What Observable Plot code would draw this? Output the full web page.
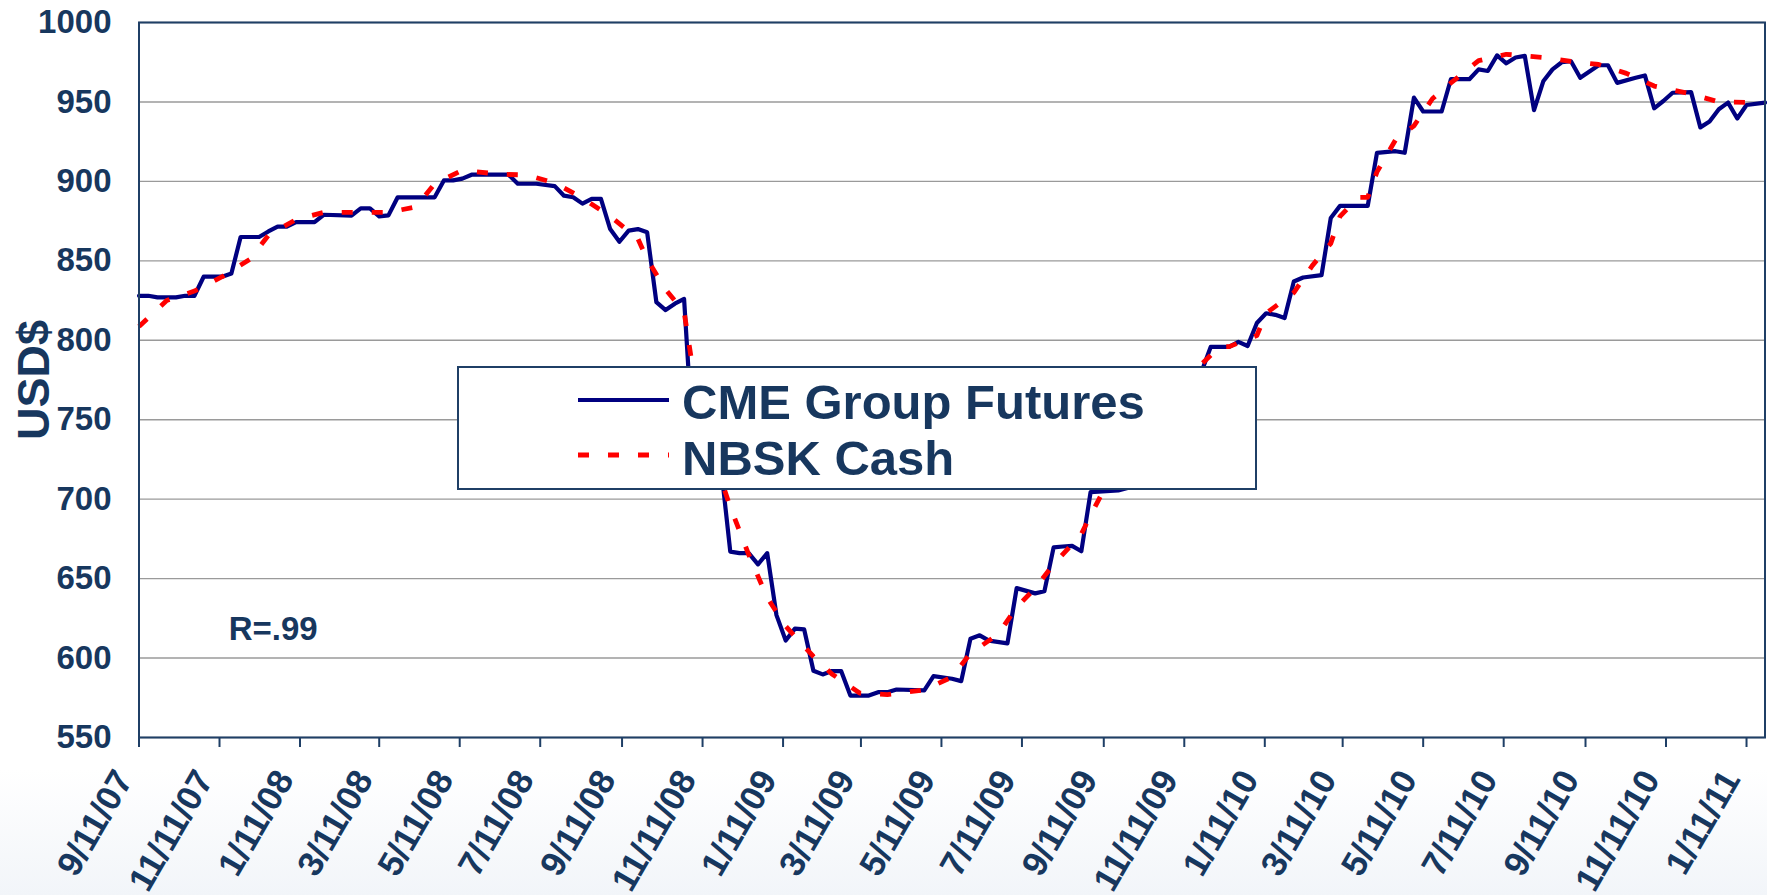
<!DOCTYPE html>
<html>
<head>
<meta charset="utf-8">
<script src="https://cdn.jsdelivr.net/npm/d3@7"></script>
<script src="https://cdn.jsdelivr.net/npm/@observablehq/plot@0.6"></script>
<style>
  html, body { margin: 0; padding: 0; overflow: hidden; }
  body {
    width: 1767px; height: 895px;
    background: linear-gradient(to bottom, #ffffff 0%, #ffffff 86%, #f2f5f9 100%);
    font-family: 'Liberation Sans', Arial, sans-serif;
  }
  #wrap { position: relative; width: 1767px; height: 895px; }
  #legend {
    position: absolute; left: 457px; top: 366px; width: 800px; height: 124px;
    box-sizing: border-box; border: 2px solid #1f3f66; background: #ffffff;
  }
  #legend svg { display: block; }
</style>
</head>
<body>
<div id="wrap"><div id="legend"></div></div>
<script>
// ---------------- data ----------------
const startDate = "2007-09-11";     // first weekly observation
const lastWeek = 176;               // last weekly observation (week index)
const tickLabels = ["9/11/07","11/11/07","1/11/08","3/11/08","5/11/08","7/11/08","9/11/08","11/11/08",
  "1/11/09","3/11/09","5/11/09","7/11/09","9/11/09","11/11/09","1/11/10","3/11/10","5/11/10",
  "7/11/10","9/11/10","11/11/10","1/11/11"];
const yTicks = [550, 600, 650, 700, 750, 800, 850, 900, 950, 1000];
const yTitle = "USD$";
const seriesNames = ["CME Group Futures", "NBSK Cash"];
const seriesColors = ["#000080", "#FF0000"];
const annotationText = "R=.99";
const annotationDate = "2007-11-18";
const annotationValue = 618;

// CME Group Futures (weekly; week index since start, value USD)
const cmeWeeks = [0,1,2,4,5,6,7,9,10,11,13,14,15,16,17,19,20,23,24,25,26,27,28,32,33,34,35,36,40,41,43,45,46,47,48,49,50,
  51,52,53,54,55,56,57,58,59,60,61,62,63,64,65,66,67,68,69,70,71,72,73,74,75,76,77,79,80,81,82,85,86,88,89,90,91,92,94,95,
  97,98,99,100,101,102,103,106,107,108,109,110,111,112,113,114,115,116,118,119,120,121,122,123,124,125,126,128,129,130,
  133,134,136,137,138,139,141,142,144,145,146,147,148,149,150,151,152,153,154,155,156,158,159,160,162,163,164,165,166,
  168,169,170,171,172,173,174,176];
const cmeValues = [828,828,827,827,828,828,840,840,842,865,865,868.5,871.5,871.5,874.4,874.4,879,878.4,883,883,878,878.6,890,890,900.6,900.6,901.7,904.2,904.2,898.5,898.5,897,891,890,886,889,889,
  870,862,869,870,868,824,819,823,826,732,728,724,720,667,666,666,659,666,627,611,618.5,618,592,589.7,591.8,591.8,576.4,576.4,578.5,578.5,580.2,579.6,588.6,587,585.5,612.2,614.3,611,609.2,644,
  640.7,642,669.7,670.2,670.6,667.2,704.4,705.5,707,740,742,745,748,752,775,778,780,795.8,795.8,799,796.4,810.9,817,816,814,837,839.5,841,877,884.6,
  884.6,918,919,918,952.7,944,944,964.3,964.3,970.5,969.5,979.3,974.3,978,979,944.8,963,970.5,975,975.6,965.2,973.1,973.1,962,965.2,966.7,946,950.6,955.8,
  956.2,934,937.7,945.4,949.6,939.6,948.1,949.6];

// NBSK Cash
const cashWeeks = [0,3,6,9,12,14,17,20,27,30,32,35,39,42,45,48,51,54,55,57,59,60,62,64,66,68,70,73,75,78,81,85,88,90,93,
  95,97,99,102,103,105,110,115,117,118,121,122,125,127,129,130,132,133,134,136,138,140,142,145,148,152,155,158,161,164,168,171,176];
const cashValues = [808.6,825,831,840,851,866,876,880.5,880.5,884,898.5,907,904.5,904,899,889.5,878,864,851,832,818,780,730,695,665,638,620,601,590,578,577,580,588,603,615,
  632,644,659,678,690,712,750,785,796,796,803,817,830,847,861,878,890,890,906,926,935,952,962,976,980,978,975.5,973.6,968,960,955,950,949.6];

// ---------------- build ----------------
const textColor = "#17375E";
const lineColor = "#1f3f66";
const font = "'Liberation Sans', Arial, sans-serif";
const start = d3.utcParse("%Y-%m-%d")(startDate);
const weekDate = w => d3.utcDay.offset(start, 7 * w);
const parseTick = d3.utcParse("%m/%d/%y");
const tickDates = tickLabels.map(parseTick);
const labelByTime = new Map(tickDates.map((d, i) => [+d, tickLabels[i]]));

const cme = cmeWeeks.map((w, i) => ({date: weekDate(w), value: cmeValues[i]}));
const cash = cashWeeks.map((w, i) => ({date: weekDate(w), value: cashValues[i]}));
const note = [{date: d3.utcParse("%Y-%m-%d")(annotationDate), value: annotationValue, text: annotationText}];

const chart = Plot.plot({
  width: 1767,
  height: 895,
  marginLeft: 138.5,
  marginRight: 2.5,
  marginTop: 22,
  marginBottom: 158,
  style: {fontFamily: font, background: "transparent", overflow: "visible"},
  x: {type: "utc", domain: [weekDate(0), weekDate(lastWeek)]},
  y: {domain: [550, 1000]},
  marks: [
    Plot.gridY(yTicks, {stroke: "#9a9a9a", strokeOpacity: 1, strokeWidth: 1.4}),
    Plot.line(cme, {x: "date", y: "value", stroke: seriesColors[0], strokeWidth: 4.2, strokeLinejoin: "round"}),
    Plot.line(cash, {x: "date", y: "value", stroke: seriesColors[1], strokeWidth: 4.8, strokeDasharray: "11,19", strokeLinecap: "butt"}),
    Plot.frame({stroke: lineColor, strokeWidth: 2}),
    Plot.axisX(tickDates, {tickSize: 10, fill: "none", stroke: lineColor, strokeWidth: 2, label: null, tickFormat: d => labelByTime.get(+d)}),
    Plot.axisX(tickDates, {tickSize: 0, tickPadding: 36, tickRotate: -60, textAnchor: "end", dx: -15,
      fill: textColor, stroke: "none", fontSize: 35, fontWeight: "bold", label: null, tickFormat: d => labelByTime.get(+d)}),
    Plot.axisY(yTicks, {tickSize: 0, tickPadding: 27.5, fill: textColor, fontSize: 33, fontWeight: "bold", label: null,
      tickFormat: d => String(d)}),
    Plot.text([yTitle], {text: d => d, frameAnchor: "left", rotate: -90, dx: -104, fontSize: 45, fontWeight: "bold",
      fill: textColor, textAnchor: "middle", lineAnchor: "middle"}),
    Plot.text(note, {x: "date", y: "value", text: "text", textAnchor: "start", lineAnchor: "middle",
      fontSize: 33, fontWeight: "bold", fill: textColor})
  ]
});
const wrap = document.getElementById("wrap");
wrap.insertBefore(chart, wrap.firstChild);

// ---------------- legend ----------------
const ns = "http://www.w3.org/2000/svg";
const lg = document.createElementNS(ns, "svg");
lg.setAttribute("width", 796);
lg.setAttribute("height", 120);
const rows = [
  {y: 32, base: 51.3, dash: null, width: 4.2},
  {y: 87, base: 107, dash: "11,19", width: 4.8}
];
rows.forEach((r, i) => {
  const ln = document.createElementNS(ns, "line");
  ln.setAttribute("x1", 119); ln.setAttribute("x2", 210);
  ln.setAttribute("y1", r.y); ln.setAttribute("y2", r.y);
  ln.setAttribute("stroke", seriesColors[i]);
  ln.setAttribute("stroke-width", r.width);
  if (r.dash) ln.setAttribute("stroke-dasharray", r.dash);
  lg.appendChild(ln);
  const t = document.createElementNS(ns, "text");
  t.setAttribute("x", 223); t.setAttribute("y", r.base);
  t.setAttribute("font-family", font);
  t.setAttribute("font-size", 49);
  t.setAttribute("font-weight", "bold");
  t.setAttribute("fill", textColor);
  t.textContent = seriesNames[i];
  lg.appendChild(t);
});
document.getElementById("legend").appendChild(lg);
chart.style.position = "absolute";
chart.style.left = "0px";
chart.style.top = "0px";
</script>
</body>
</html>
